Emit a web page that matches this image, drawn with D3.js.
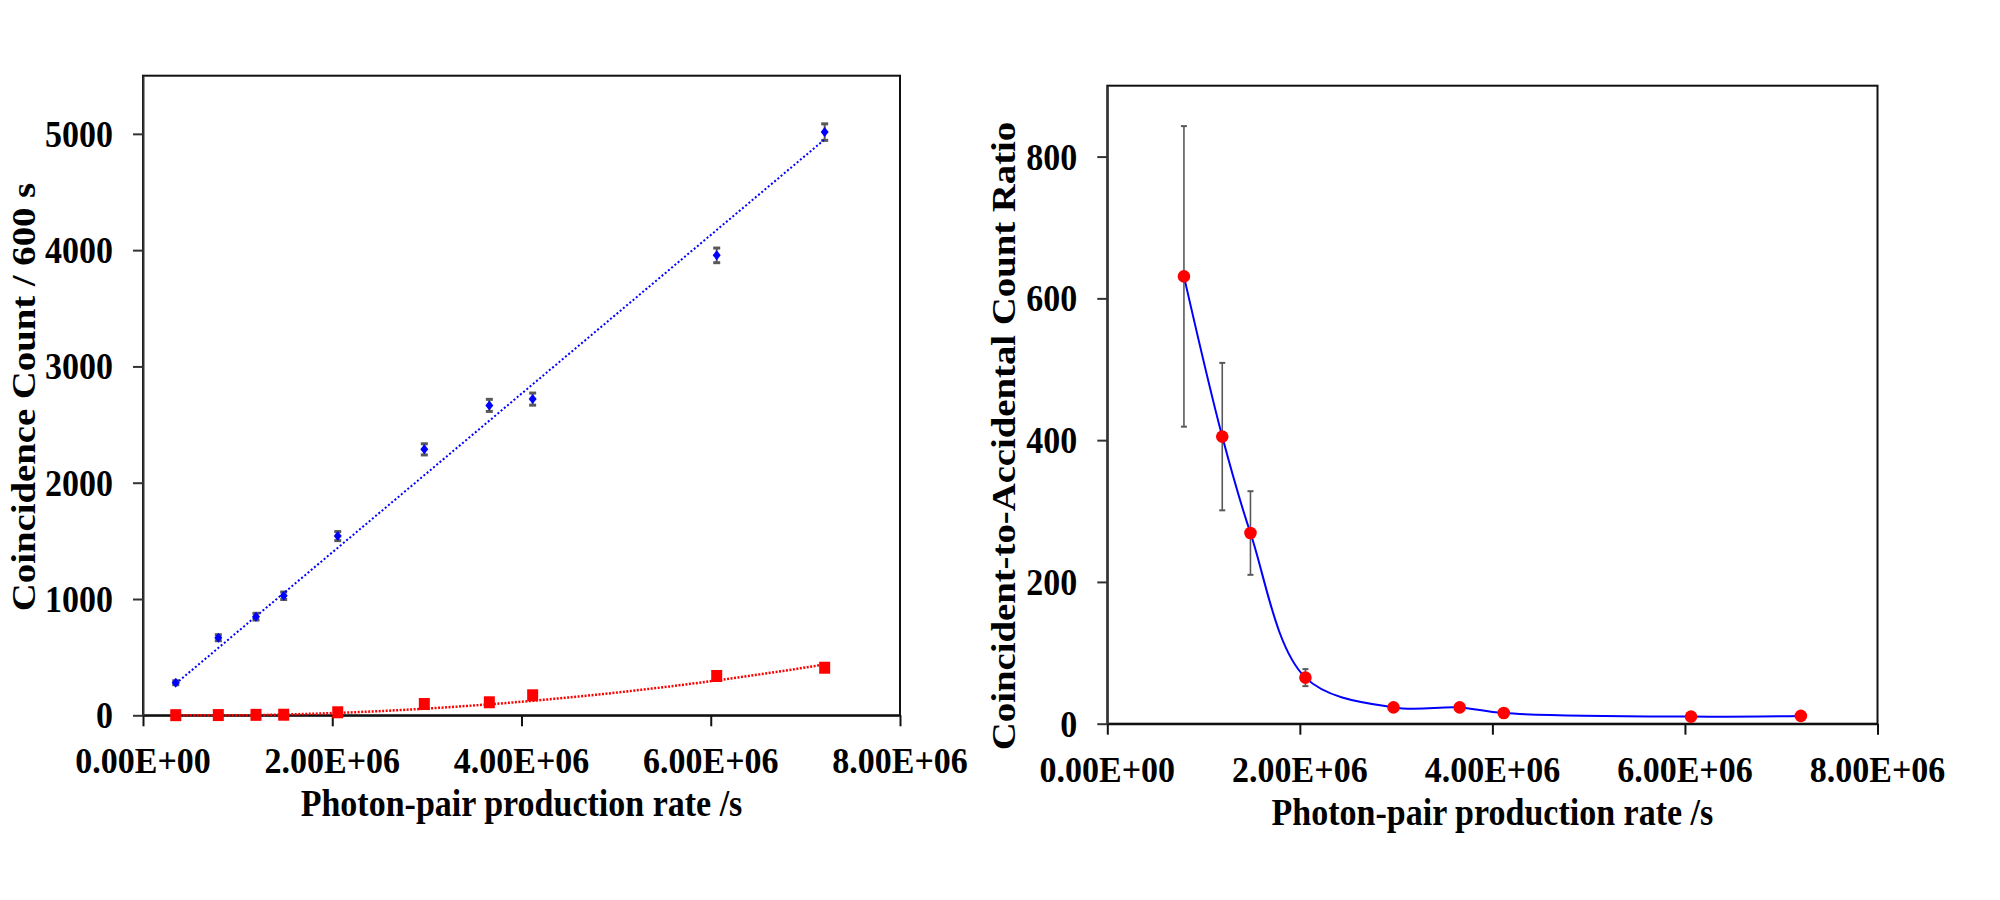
<!DOCTYPE html>
<html><head><meta charset="utf-8">
<script src="https://cdn.jsdelivr.net/npm/d3@7"></script>
<style>
body{margin:0;background:#fff}
svg{display:block;background:#fff}
text{font-family:"Liberation Serif","Times New Roman",serif;font-weight:bold;fill:#000}
</style>
</head><body>
<svg id="c" width="2000" height="900"></svg>
<script>
// ---------- data ----------
const rate = [3.46e5, 7.96e5, 1.194e6, 1.487e6, 2.058e6, 2.973e6, 3.66e6, 4.118e6, 6.063e6, 7.204e6];
const coincidence = [280, 667, 848, 1028, 1541, 2287, 2665, 2719, 3955, 5015];
const coincidenceErr = [17, 26, 29, 32, 39, 48, 52, 52, 63, 71];
const accidental = [1, 2, 4, 5, 26, 97, 112, 172, 338, 409];
const ratioRate = [7.96e5, 1.194e6, 1.487e6, 2.058e6, 2.973e6, 3.66e6, 4.118e6, 6.063e6, 7.204e6];
const ratio = [631, 405, 269, 65, 23, 23, 15, 10, 11];
const ratioErr = [212, 104, 59, 12, 2, 2, 1, 1, 1];
// trendlines
const blueTrendEnds = [272, 4952];            // linear trendline values at first/last rate
const redTrendCoef = [0, -10.26, 9.856];      // quadratic in units of 1e6 /s
// ticks
const xTickValues = [0, 2e6, 4e6, 6e6, 8e6];
const xTickLabels = ["0.00E+00", "2.00E+06", "4.00E+06", "6.00E+06", "8.00E+06"];
const leftYTicks = [0, 1000, 2000, 3000, 4000, 5000];
const rightYTicks = [0, 200, 400, 600, 800];
const xTitle = "Photon-pair production rate /s";
const leftYTitle = "Coincidence Count / 600 s";
const rightYTitle = "Coincident-to-Accidental Count Ratio";

const svg = d3.select("#c");
const FS = 34;

function panel(o) {
  const x = d3.scaleLinear().domain([0, 8e6]).range([o.x0, o.x1]);
  const y = d3.scaleLinear().domain([0, o.yMax]).range([o.y0, o.yTop]);
  const g = svg.append("g");
  // frame (top & right)
  g.append("rect").attr("x", o.x0).attr("y", o.yTop)
    .attr("width", o.x1 - o.x0).attr("height", o.y0 - o.yTop)
    .attr("fill", "none").attr("stroke", "#111").attr("stroke-width", 2);
  // x axis
  const xa = g.append("g").attr("transform", `translate(0,${o.y0})`)
    .call(d3.axisBottom(x).tickValues(xTickValues).tickSize(11).tickSizeOuter(0).tickFormat(""));
  xa.selectAll("path,line").attr("stroke", "#111").attr("stroke-width", 2);
  // y axis
  const ya = g.append("g").attr("transform", `translate(${o.x0},0)`)
    .call(d3.axisLeft(y).tickValues(o.yTicks).tickSize(10).tickSizeOuter(0).tickFormat(""));
  ya.selectAll("path,line").attr("stroke", "#333").attr("stroke-width", 2);
  // x tick labels
  g.selectAll(".xl").data(xTickValues).join("text")
    .attr("text-anchor", "middle").attr("font-size", FS)
    .attr("transform", (d) => `translate(${x(d)},${o.y0 + 58}) scale(1,1.05)`)
    .text((d, i) => xTickLabels[i]);
  // y tick labels
  g.selectAll(".yl").data(o.yTicks).join("text")
    .attr("text-anchor", "end").attr("font-size", FS)
    .attr("transform", (d) => `translate(${o.x0 - 30},${y(d) + 13}) scale(1,1.12)`)
    .text((d) => d);
  // x title
  g.append("text").attr("text-anchor", "middle").attr("font-size", FS)
    .attr("transform", `translate(${(o.x0 + o.x1) / 2},${o.y0 + 101}) scale(1,1.1)`)
    .text(xTitle);
  // y title
  g.append("text").attr("text-anchor", "middle").attr("font-size", FS)
    .attr("transform", `translate(${o.ytX},${o.ytY}) rotate(-90) scale(1.14,1)`)
    .text(o.yTitle);
  return {x, y, g};
}

// ---------- left panel ----------
const L = panel({x0: 143, x1: 900, yTop: 75.7, y0: 715.3, yMax: 5500, yTicks: leftYTicks,
  yTitle: leftYTitle, ytX: 35, ytY: 397});
const lg = L.g.append("g");
// error bars
const eb = lg.selectAll(".eb").data(rate).join("g");
eb.append("line").attr("x1", (d) => L.x(d)).attr("x2", (d) => L.x(d))
  .attr("y1", (d, i) => L.y(coincidence[i] + coincidenceErr[i]))
  .attr("y2", (d, i) => L.y(coincidence[i] - coincidenceErr[i]))
  .attr("stroke", "#595959").attr("stroke-width", 2);
[1, -1].forEach((s) => {
  eb.append("line").attr("x1", (d) => L.x(d) - 3.5).attr("x2", (d) => L.x(d) + 3.5)
    .attr("y1", (d, i) => L.y(coincidence[i] + s * coincidenceErr[i]))
    .attr("y2", (d, i) => L.y(coincidence[i] + s * coincidenceErr[i]))
    .attr("stroke", "#595959").attr("stroke-width", 3);
});
// blue diamonds
lg.selectAll(".bd").data(rate).join("path")
  .attr("d", "M0,-5L4,0L0,5L-4,0Z")
  .attr("transform", (d, i) => `translate(${L.x(d)},${L.y(coincidence[i])})`)
  .attr("fill", "#0000ff");
// red squares
lg.selectAll(".rs").data(rate).join("rect")
  .attr("x", (d) => L.x(d) - 5.5).attr("y", (d, i) => L.y(accidental[i]) - 6)
  .attr("width", 11).attr("height", 12).attr("fill", "#ff0000");
// linear trendline
lg.append("path")
  .attr("d", d3.line()([[L.x(rate[0]), L.y(blueTrendEnds[0])], [L.x(rate[rate.length - 1]), L.y(blueTrendEnds[1])]]))
  .attr("fill", "none").attr("stroke", "#0000ff").attr("stroke-width", 2).attr("stroke-dasharray", "2,2.2");
// quadratic trendline
const rx = d3.range(0, 61).map((k) => rate[0] + (rate[rate.length - 1] - rate[0]) * k / 60);
lg.append("path")
  .attr("d", d3.line().x((d) => L.x(d)).y((d) => {
    const t = d / 1e6;
    return L.y(Math.max(0, redTrendCoef[0] + redTrendCoef[1] * t + redTrendCoef[2] * t * t));
  })(rx))
  .attr("fill", "none").attr("stroke", "#ff0000").attr("stroke-width", 2.5).attr("stroke-dasharray", "2,1.5");

// ---------- right panel ----------
const R = panel({x0: 1107.3, x1: 1877.5, yTop: 85.7, y0: 723.7, yMax: 900, yTicks: rightYTicks,
  yTitle: rightYTitle, ytX: 1015, ytY: 436});
const rg = R.g.append("g");
const reb = rg.selectAll(".reb").data(ratioRate).join("g");
reb.append("line").attr("x1", (d) => R.x(d)).attr("x2", (d) => R.x(d))
  .attr("y1", (d, i) => R.y(ratio[i] + ratioErr[i]))
  .attr("y2", (d, i) => R.y(ratio[i] - ratioErr[i]))
  .attr("stroke", "#595959").attr("stroke-width", 1.6);
[1, -1].forEach((s) => {
  reb.append("line").attr("x1", (d) => R.x(d) - 3).attr("x2", (d) => R.x(d) + 3)
    .attr("y1", (d, i) => R.y(ratio[i] + s * ratioErr[i]))
    .attr("y2", (d, i) => R.y(ratio[i] + s * ratioErr[i]))
    .attr("stroke", "#595959").attr("stroke-width", 2);
});
rg.append("path")
  .attr("d", d3.line().x((d) => R.x(d)).y((d, i) => R.y(ratio[i])).curve(d3.curveCatmullRom.alpha(0.5))(ratioRate))
  .attr("fill", "none").attr("stroke", "#0000ff").attr("stroke-width", 2);
rg.selectAll(".rd").data(ratioRate).join("circle")
  .attr("cx", (d) => R.x(d)).attr("cy", (d, i) => R.y(ratio[i]))
  .attr("r", 6.3).attr("fill", "#ff0000");
</script>
</body></html>
